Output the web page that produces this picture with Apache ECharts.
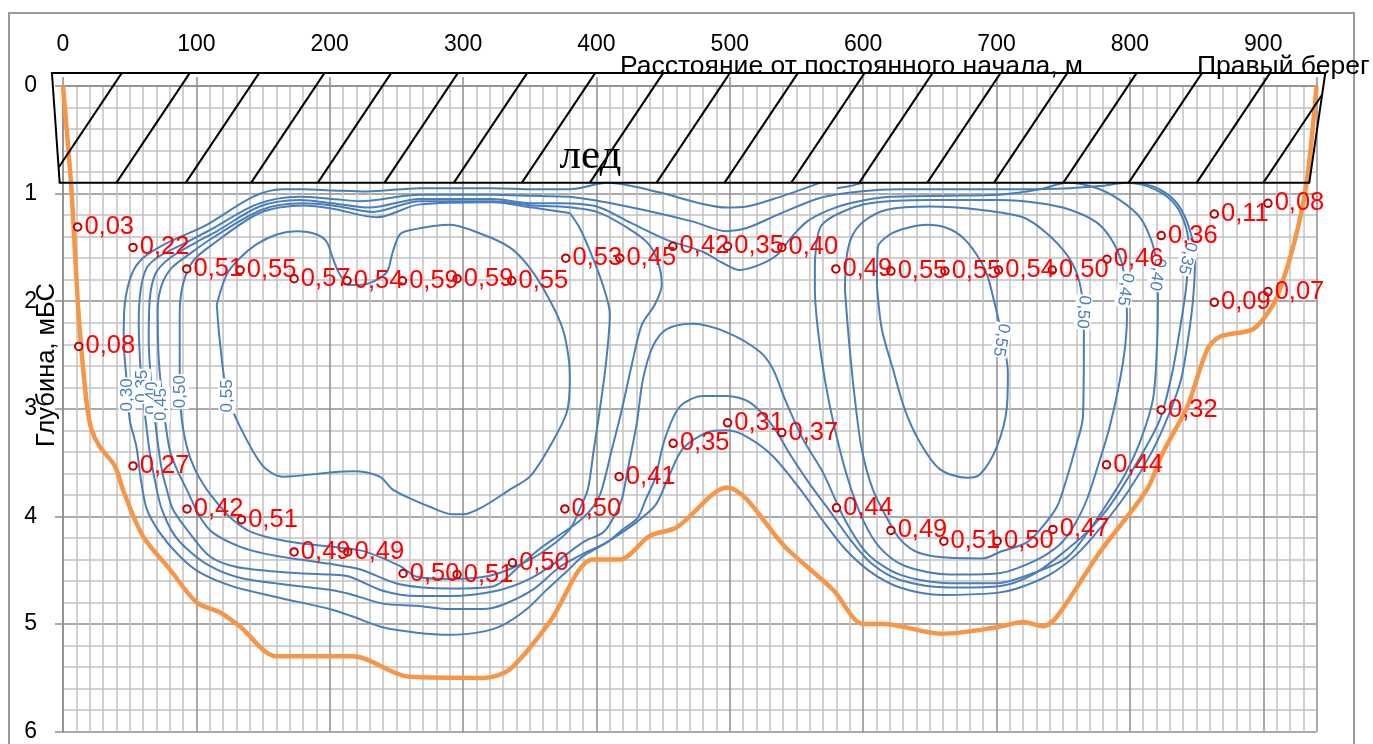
<!DOCTYPE html>
<html><head><meta charset="utf-8">
<script src="https://cdn.jsdelivr.net/npm/echarts@6/dist/echarts.min.js"></script>
<style>html,body{margin:0;padding:0;background:#fff}#main{width:1373px;height:744px}</style>
</head><body><div id="main"></div>
<script>
// ---------------- data ----------------
const xTickValues = [0,100,200,300,400,500,600,700,800,900];
const yTickValues = [0,1,2,3,4,5,6];

// river bed profile (distance m, depth m)
const bedX = [0,6,8.5,11.3,13.8,18,21.3,27.5,38.8,45.5,59.8,80,100.3,117.5,132.5,160.3,217.3,260,314.8,335,365,397.3,417.5,440,460.3,497.8,542.8,577.3,600,615,659,700.3,720,735,745.3,777.5,812.8,825,843,858,867.5,892.3,905,912.5,923.8,932.5,940];
const bedDepth = [0,0.9,1.43,2.05,2.45,2.97,3.19,3.35,3.53,3.77,4.18,4.49,4.80,4.89,5.02,5.30,5.30,5.49,5.50,5.42,4.98,4.40,4.40,4.18,4.10,3.73,4.30,4.68,5.0,5.0,5.09,5.03,4.98,5.02,4.93,4.33,3.75,3.40,2.98,2.45,2.33,2.26,2.08,1.89,1.43,0.9,0];

// measured velocities (distance m, depth m, m/s)
const speedX = [11,52.5,92.8,132.8,173.3,213,254.5,295.5,336.5,377,417.5,457.3,498.3,539,579.5,620.8,661.3,701.5,741.8,782.8,823.5,863.3,903.5,863.3,903.5,11.8,52.5,93,133.8,173.3,213.5,255,295.5,337,376.3,417,457.5,498.3,539,580,620.8,660.5,700.5,742.3,823.5,782.5];
const speedDepth = [1.31,1.50,1.70,1.71,1.79,1.81,1.81,1.79,1.81,1.60,1.60,1.49,1.49,1.50,1.70,1.72,1.72,1.71,1.71,1.61,1.39,1.19,1.09,2.01,1.91,2.42,3.53,3.93,4.03,4.33,4.33,4.53,4.54,4.43,3.93,3.63,3.32,3.13,3.22,3.92,4.13,4.23,4.23,4.12,3.01,3.52];
const speedValue = [0.03,0.22,0.51,0.55,0.57,0.54,0.59,0.59,0.55,0.53,0.45,0.42,0.35,0.40,0.49,0.55,0.55,0.54,0.50,0.46,0.36,0.11,0.08,0.09,0.07,0.08,0.27,0.42,0.51,0.49,0.49,0.50,0.51,0.50,0.50,0.41,0.35,0.31,0.37,0.44,0.49,0.51,0.50,0.47,0.32,0.44];

// isotachs (distance m, depth m)
const iso030 = [[807.5,0.90],[822.5,0.96],[836,1.10],[845,1.34],[848.8,1.61],[847.3,1.99],[843.5,2.36],[838.3,2.73],[829.3,3.05],[816.5,3.40],[798.5,3.77],[779,4.09],[760.3,4.35],[740,4.54],[715.3,4.67],[700.3,4.71],[659.8,4.73],[627.5,4.66],[605,4.51],[586.3,4.30],[569.8,4.04],[554.8,3.78],[532.3,3.44],[512.8,3.26],[497.8,3.20],[482.8,3.22],[464.8,3.37],[453.5,3.65],[444.5,3.89],[430.3,4.05],[415.3,4.18],[402.5,4.28],[389.8,4.37],[377.8,4.51],[362.8,4.68],[347.8,4.86],[329.8,5.01],[314.8,5.07],[290,5.10],[265.3,5.08],[239.8,5.03],[217.3,4.93],[200,4.86],[160.3,4.75],[127.3,4.65],[102.5,4.52],[87.5,4.37],[72.5,4.15],[62.8,3.93],[58.3,3.65],[55,3.35],[50,3.10],[47.8,2.75],[45.5,2.36],[46.3,2.03],[51.5,1.75],[59.8,1.60],[77.8,1.46],[107.8,1.29],[142.3,1.03],[164.8,0.96],[179.8,0.96],[202.3,0.97],[227.8,0.98],[267.5,0.95],[322.3,0.95],[352.3,0.96],[380,0.96],[408.5,0.90],[447.5,0.99],[477.5,1.09],[497.8,1.13],[512.8,1.12],[535.3,1.04],[567.5,0.90]];
const iso030Edge = [[580.3,0.95],[590,0.93],[599.8,0.90]];
const iso035 = [[380,1.03],[402.5,1.07],[434.8,1.15],[472.3,1.26],[497.8,1.35],[512.8,1.32],[535.3,1.20],[567.5,1.04],[597.5,0.98],[627.5,0.96],[672.5,0.96],[717.5,0.96],[755,0.95],[777.5,0.93],[797.8,0.90],[818.8,0.96],[833.8,1.10],[842,1.31],[844.3,1.52],[842,1.89],[837.5,2.26],[831.5,2.68],[822.5,3.10],[809,3.42],[789.5,3.82],[772.3,4.09],[753.5,4.30],[727.3,4.54],[700.3,4.65],[665,4.66],[627.5,4.59],[606.5,4.44],[590,4.21],[575,3.95],[560,3.70],[545,3.42],[532.3,3.16],[515,2.94],[497.8,2.88],[479.8,2.88],[462.5,2.98],[451.3,3.28],[443.8,3.65],[437,3.84],[431,4.01],[419.8,4.12],[407.8,4.24],[392.8,4.33],[372.5,4.47],[352.3,4.68],[329.8,4.82],[314.8,4.86],[290,4.86],[265.3,4.83],[239.8,4.81],[215,4.72],[200,4.68],[164.8,4.63],[132.5,4.57],[110,4.46],[92.8,4.30],[82.3,4.15],[74,3.93],[70.3,3.75],[65,3.40],[61.3,3.03],[58.3,2.66],[56.8,2.20],[58.3,1.89],[62.8,1.69],[72.5,1.58],[89.8,1.47],[110,1.34],[145.3,1.10],[177.5,1.03],[202.3,1.05],[222.5,1.07],[267.5,1.01],[322.3,1.01],[352.3,1.02],[380,1.03]];
const iso040 = [[372.5,1.09],[400.3,1.12],[425.5,1.27],[452.8,1.43],[479.8,1.54],[494,1.64],[507.5,1.71],[522.5,1.66],[535.3,1.57],[547.3,1.39],[557.8,1.26],[572.8,1.16],[590,1.09],[620,1.03],[665,1.02],[702.5,1.01],[732.5,0.96],[752.8,0.90],[775.3,0.95],[792.5,1.06],[807.5,1.22],[816.5,1.45],[820.3,1.69],[821,1.99],[820.3,2.42],[817.3,2.91],[807.5,3.31],[796.3,3.61],[785,3.84],[770,4.12],[752.8,4.38],[728.8,4.52],[700.3,4.62],[665,4.62],[627.5,4.54],[603.5,4.35],[586.3,4.03],[569.8,3.59],[554.8,3.28],[541.3,2.91],[532.3,2.63],[522.5,2.47],[497.8,2.29],[472.3,2.21],[452.8,2.26],[442.3,2.42],[434.8,2.73],[430.3,3.13],[423.5,3.56],[419,3.84],[411.5,4.04],[404.8,4.15],[389.8,4.24],[370.3,4.42],[350,4.58],[325.3,4.69],[290,4.74],[265.3,4.74],[239.8,4.69],[215,4.56],[200,4.54],[167.8,4.52],[130.3,4.47],[110,4.37],[92.8,4.12],[82.3,3.93],[77.8,3.75],[74,3.56],[69.5,3.16],[66.5,2.82],[64.3,2.36],[65,1.99],[69.5,1.74],[80,1.60],[100.3,1.45],[115.3,1.35],[147.5,1.12],[177.5,1.06],[202.3,1.09],[230,1.13],[267.5,1.05],[322.3,1.05],[352.3,1.09],[372.5,1.09]];
const iso045Left = [[372.5,1.12],[400.3,1.17],[423.5,1.32],[438.5,1.46],[446,1.63],[449,1.85],[443.8,2.03],[434,2.22],[426.5,2.59],[419,3.01],[411.5,3.38],[404,3.75],[398.8,3.89],[387.5,4.04],[372.5,4.17],[357.5,4.30],[342.5,4.46],[322.3,4.65],[290,4.67],[252.5,4.63],[222.5,4.49],[200,4.44],[177.5,4.40],[152.8,4.35],[132.5,4.28],[112.3,4.15],[102.5,4.00],[92.8,3.75],[85.3,3.56],[80,3.38],[75.5,3.01],[71.8,2.54],[71,2.08],[74,1.85],[81.5,1.69],[95,1.56],[112.3,1.41],[149,1.15],[179,1.09],[202.3,1.11],[232.3,1.17],[267.5,1.07],[322.3,1.07],[352.3,1.11],[372.5,1.12]];
const iso045Right = [[565.3,1.43],[569,1.29],[582.5,1.18],[605,1.09],[650,1.06],[702.5,1.06],[732.5,1.09],[755,1.15],[775.3,1.27],[787.3,1.45],[794.8,1.69],[797.8,2.14],[794.8,2.57],[785,3.16],[775.3,3.56],[767.8,3.84],[758.8,4.07],[747.5,4.26],[727.3,4.42],[700.3,4.53],[665,4.54],[631.3,4.46],[612.5,4.29],[599.8,4.03],[588.5,3.65],[578.8,3.19],[571.3,2.73],[566,2.26],[563.8,1.89],[563.8,1.66],[565.3,1.43]];
const iso050Left = [[380,1.18],[387.5,1.32],[397.3,1.60],[404.8,1.85],[410,2.12],[407,2.59],[402.5,3.01],[398,3.38],[393.5,3.75],[387.5,3.93],[380,4.12],[359.8,4.33],[340.3,4.46],[320,4.55],[290,4.58],[265.3,4.56],[252.5,4.46],[224.8,4.32],[200,4.28],[167.8,4.23],[142.3,4.15],[127.3,4.03],[115.3,3.87],[107.8,3.75],[98.8,3.56],[92.8,3.35],[88.3,3.01],[87.5,2.54],[87.5,2.12],[89.8,1.85],[97.3,1.63],[112.3,1.47],[147.5,1.18],[179.8,1.11],[202.3,1.14],[235.3,1.22],[267.5,1.10],[322.3,1.08],[352.3,1.13],[380,1.18]];
const iso050Right = [[586.3,1.89],[587.8,1.57],[592.3,1.38],[601.3,1.25],[617.8,1.15],[650,1.12],[687.5,1.15],[719.8,1.22],[737.8,1.37],[752.8,1.57],[761,1.77],[764.8,2.03],[765.5,2.36],[764.8,3.07],[758.8,3.38],[751.3,3.70],[745.3,3.91],[734.8,4.09],[722.8,4.24],[702.5,4.33],[689.8,4.39],[659.8,4.38],[640.3,4.33],[627.5,4.21],[618.5,4.03],[607.3,3.75],[599,3.38],[593.8,2.91],[589.3,2.36],[586.3,1.89]];
const iso055Left = [[115.3,2.03],[122.8,1.75],[132.5,1.60],[145.3,1.47],[160.3,1.38],[175.3,1.35],[190.3,1.38],[197.8,1.45],[202.3,1.60],[207.5,1.75],[215,1.85],[222.5,1.85],[232.3,1.82],[242.8,1.73],[247.3,1.54],[252.5,1.38],[260,1.34],[290,1.29],[314.8,1.38],[335,1.50],[350,1.69],[365,1.99],[374.8,2.26],[379.3,2.54],[380,2.73],[377.8,3.03],[365,3.35],[350,3.63],[335,3.75],[314.8,3.91],[299.8,3.98],[292.3,3.98],[275,3.91],[265.3,3.86],[247.3,3.75],[237.5,3.63],[217.3,3.58],[202.3,3.59],[164.8,3.63],[149.8,3.53],[132.5,3.16],[122.8,2.85],[117.5,2.36],[115.3,2.03]];
const iso055Right = [[610.3,1.85],[611,1.50],[620,1.38],[632.8,1.32],[647.8,1.29],[662.8,1.32],[674.8,1.41],[685.3,1.57],[692.8,1.75],[698.8,2.03],[704.8,2.36],[708.5,2.66],[707.8,2.98],[700.3,3.35],[687.5,3.61],[677.8,3.64],[657.5,3.56],[642.5,3.31],[631.3,3.01],[622.3,2.63],[614,2.26],[610.3,1.85]];

// isotach labels
const contourLabelText = ['0,30','0,35','0,40','0,45','0,50','0,55','0,55','0,50','0,45','0,40','0,35'];
const contourLabelX = [48,59.5,67,74,88,123,703.5,765,796.5,820.5,843];
const contourLabelY = [2.87,2.79,2.90,2.96,2.84,2.88,2.36,2.10,1.89,1.75,1.60];
const contourLabelRotate = [90,90,90,90,90,90,-100,-95,-100,-100,-105];

// ice cover outline (distance m, depth m) and hatching
const iceOutlineX = [-8.3,946.5,934.5,-2.5];
const iceOutlineY = [-0.12,-0.12,0.9,0.9];
const iceHatchTopX = [44,95,147,196,246,296,348,399,450,500,551,601,652,703,753,805,854,905,955];
const iceHatchShift = 55;
const iceLabelPos = [395.5,0.66];

// ---------------- chart ----------------
const FONT = '"Liberation Sans", Arial, sans-serif';
const BLUE = '#4A7EBB';
const chart = echarts.init(document.getElementById('main'));

const isoList = [iso030, iso030Edge, iso035, iso040, iso045Left, iso045Right, iso050Left, iso050Right, iso055Left, iso055Right];
const isoSeries = isoList.map(pts => ({
  type: 'line', data: pts, smooth: 0.3, showSymbol: false, symbol: 'none',
  lineStyle: { color: BLUE, width: 2 }, silent: true, z: 2, animation: false
}));

const option = {
  animation: false,
  textStyle: { fontFamily: FONT },
  grid: { left: 63, top: 86, right: 56.4, bottom: 12.3, containLabel: false },
  xAxis: {
    type: 'value', position: 'top', min: 0, max: 940, interval: 100,
    axisLine: { show: true, onZero: false, lineStyle: { color: '#8e8e8e', width: 1.5 } },
    axisTick: { show: true, inside: false, length: 9, lineStyle: { color: '#8e8e8e', width: 1.5 } },
    axisLabel: { fontSize: 23, color: '#000', margin: 30, fontFamily: FONT,
      formatter: v => xTickValues.indexOf(v) >= 0 ? String(v) : '' },
    splitLine: { show: true, lineStyle: { color: '#8e8e8e', width: 1.5 } },
    minorTick: { show: false, splitNumber: 10 },
    minorSplitLine: { show: true, lineStyle: { color: '#c2c2c2', width: 1.5 } }
  },
  yAxis: {
    type: 'value', inverse: true, min: 0, max: 6, interval: 1,
    axisLine: { show: true, onZero: false, lineStyle: { color: '#8e8e8e', width: 1.5 } },
    axisTick: { show: true, inside: false, length: 8, lineStyle: { color: '#8e8e8e', width: 1.5 } },
    axisLabel: { fontSize: 23, color: '#000', margin: 26, fontFamily: FONT,
      formatter: v => yTickValues.indexOf(v) >= 0 ? String(v) : '' },
    splitLine: { show: true, lineStyle: { color: '#8e8e8e', width: 1.5 } },
    minorTick: { show: false, splitNumber: 5 },
    minorSplitLine: { show: true, lineStyle: { color: '#c2c2c2', width: 1.5 } }
  },
  graphic: [
    { type: 'rect', silent: true, z: -1, shape: { x: 9, y: 13, width: 1345, height: 800 },
      style: { fill: 'none', stroke: '#9a9a9a', lineWidth: 2 } },
    { type: 'text', silent: true, x: 620, y: 67,
      style: { text: 'Расстояние от постоянного начала, м', font: '26.5px ' + FONT, fill: '#000', align: 'left', verticalAlign: 'middle' } },
    { type: 'text', silent: true, x: 1197, y: 67,
      style: { text: 'Правый берег', font: '26.5px ' + FONT, fill: '#000', align: 'left', verticalAlign: 'middle' } },
    { type: 'text', silent: true, x: 47, y: 365, rotation: Math.PI / 2,
      style: { text: 'Глубина, мБС', font: '25.5px ' + FONT, fill: '#000', align: 'center', verticalAlign: 'middle' } }
  ],
  series: [
    ...isoSeries,
    {
      type: 'custom', silent: true, z: 3, clip: false,
      data: contourLabelText.map((t, i) => [contourLabelX[i], contourLabelY[i], contourLabelRotate[i]]),
      renderItem: (params, api) => {
        const p = api.coord([api.value(0), api.value(1)]);
        return { type: 'text', x: p[0], y: p[1], rotation: api.value(2) * Math.PI / 180,
          style: { text: contourLabelText[params.dataIndex], font: '17px ' + FONT, fill: BLUE,
            align: 'center', verticalAlign: 'middle', backgroundColor: '#fff', padding: [0, 1] } };
      }
    },
    {
      type: 'line', data: bedX.map((x, i) => [x, bedDepth[i]]), smooth: 0.3, showSymbol: false, symbol: 'none',
      lineStyle: { color: '#F79646', width: 4.5 }, silent: true, z: 4
    },
    {
      type: 'custom', silent: true, z: 5, clip: false, data: [[0, 0]],
      renderItem: (params, api) => {
        const pts = iceOutlineX.map((x, i) => api.coord([x, iceOutlineY[i]]));
        const children = [{ type: 'polygon', shape: { points: pts }, style: { fill: 'none', stroke: '#000', lineWidth: 2 } }];
        const L0 = iceOutlineX[0], R0 = iceOutlineX[1], R1 = iceOutlineX[2], L1 = iceOutlineX[3];
        const yT = iceOutlineY[0], yB = iceOutlineY[2];
        iceHatchTopX.forEach(xt => {
          const t0 = Math.max(0, (xt - R0) / (iceHatchShift + R1 - R0));
          const t1 = Math.min(1, (xt - L0) / (iceHatchShift + L1 - L0));
          if (t1 <= t0) return;
          const a = api.coord([xt - iceHatchShift * t0, yT + (yB - yT) * t0]);
          const b = api.coord([xt - iceHatchShift * t1, yT + (yB - yT) * t1]);
          children.push({ type: 'line', shape: { x1: a[0], y1: a[1], x2: b[0], y2: b[1] }, style: { stroke: '#000', lineWidth: 2 } });
        });
        const tp = api.coord(iceLabelPos);
        children.push({ type: 'text', x: tp[0], y: tp[1],
          style: { text: 'лед', font: '43px "Liberation Serif", "Times New Roman", serif', fill: '#000', align: 'center', verticalAlign: 'middle' } });
        return { type: 'group', children };
      }
    },
    {
      type: 'scatter', z: 10, silent: true,
      data: speedX.map((x, i) => [x, speedDepth[i], speedValue[i]]),
      symbol: 'circle', symbolSize: 7.5,
      itemStyle: { color: '#fff', borderColor: '#C00000', borderWidth: 2, opacity: 1 },
      label: { show: true, position: 'right', distance: 2, offset: [0, -3], color: '#FF0000', fontSize: 25.5, fontFamily: FONT,
        formatter: p => p.data[2].toFixed(2).replace('.', ',') },
      labelLayout: { hideOverlap: false }
    }
  ]
};
chart.setOption(option);
</script></body></html>
